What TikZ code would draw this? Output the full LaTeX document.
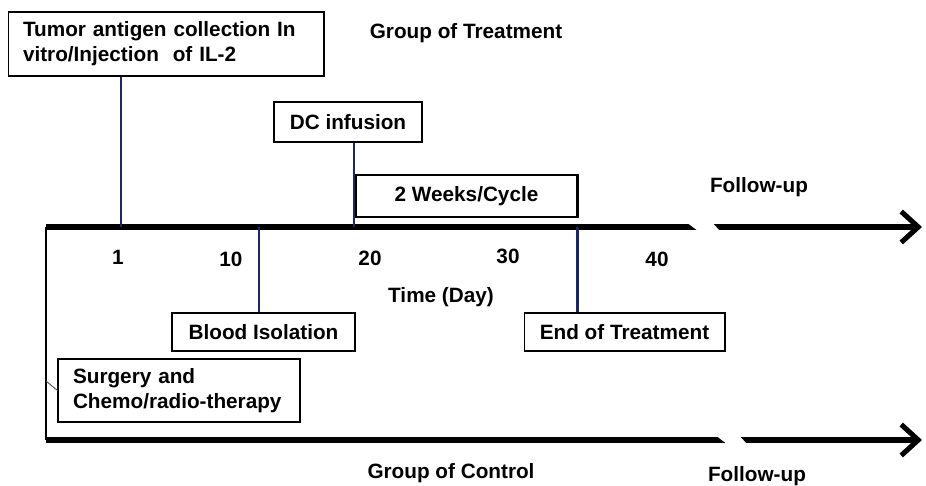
\documentclass[tikz,border=0pt]{standalone}
\usepackage{fontspec}
\setmainfont{Liberation Sans}
\usetikzlibrary{arrows.meta}
\definecolor{navy}{RGB}{24,40,104}

\begin{document}
\begin{tikzpicture}[x=0.02cm, y=-0.02cm,
    font=\fontsize{11.8}{14.2}\selectfont\bfseries,
    >={Straight Barb[length=0.34cm, width=0.62cm]},
    box/.style={draw, line width=0.6pt, inner xsep=0.3cm, inner ysep=0pt},
    event/.style={draw=navy, line width=1.7pt},
    axis/.style={line width=2.9pt, ->}]
    \useasboundingbox (0,0) rectangle (926,486);

    % timeline coordinates
    \coordinate (tl) at (46,227);
    \coordinate (tr) at (922,227);
    \coordinate (bl) at (46,440);
    \coordinate (br) at (922,440);
    \coordinate (d1) at (121,227);
    \coordinate (d12) at (259,227);
    \coordinate (d19) at (354,227);
    \coordinate (d35) at (577,227);
    \coordinate (lnk) at (46,381);

    % two groups
    \draw[axis] (tl) -- (tr);
    \draw[axis] (bl) -- (br);
    \draw[line width=1.1pt] (tl) -- (bl);
    \fill[white] (688,223.5) -- (713,223.5) -- (720,231) -- (698,231) -- cycle;
    \fill[white] (717,436.5) -- (740,436.5) -- (747,444) -- (727,444) -- cycle;

    % boxes
    \node[box, minimum width=6.32cm, minimum height=1.28cm, text width=5.72cm, align=left]
        (tumor) at (166,44) {Tumor antigen collection In\\vitro/Injection\ \ of IL-2};
    \node[box, minimum width=2.96cm, minimum height=0.8cm] (dc) at (348,122) {DC infusion};
    \node[box, line width=1.7pt, minimum width=4.46cm, minimum height=0.84cm] (cycle) at (466.5,196) {2 Weeks/Cycle};
    \node[box, minimum width=3.66cm, minimum height=0.76cm] (blood) at (263.5,332) {Blood Isolation};
    \node[box, minimum width=4.02cm, minimum height=0.76cm] (finish) at (624.5,332) {End of Treatment};
    \node[box, minimum width=4.84cm, minimum height=1.26cm, text width=4.24cm, align=left]
        (surgery) at (179,390.5) {Surgery and\\Chemo/radio-therapy};

    % events
    \draw[event] (tumor.south -| d1) -- (d1);
    \draw[event] (dc.south -| d19) -- (d19);
    \draw[event] (d12) -- (blood.north -| d12);
    \draw[event] (d35) -- (finish.north -| d35);
    \draw[line width=0.5pt, black!70] (lnk) -- (surgery.west);

    % labels
    \node (treat) at (466,33) {Group of Treatment};
    \node (control) at (451,473) {Group of Control};
    \node (fup1) at (759,187) {Follow-up};
    \node (fup2) at (757,476) {Follow-up};
    \node (time) at (441,297) {Time (Day)};
    \node (t1) at (118,257) {1};
    \node (t10) at (231,259) {10};
    \node (t20) at (370,258) {20};
    \node (t30) at (508,256) {30};
    \node (t40) at (657,259) {40};
\end{tikzpicture}
\end{document}
